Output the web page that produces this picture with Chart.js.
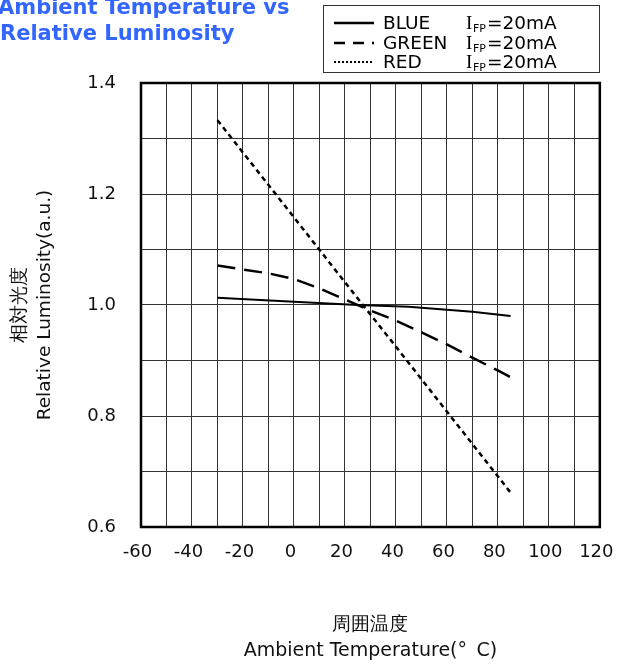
<!DOCTYPE html>
<html>
<head>
<meta charset="utf-8">
<script src="https://cdn.jsdelivr.net/npm/chart.js@4.4.0/dist/chart.umd.min.js"></script>
<style>
  html, body { margin: 0; padding: 0; background: #fff; }
  #wrap { width: 632px; height: 664px; position: relative; }
</style>
</head>
<body>
<div id="wrap"><canvas id="c" width="632" height="664"></canvas></div>
<script>
// ---- data ----
const blueX  = [-30, 0, 25, 45, 70, 85];
const blueY  = [1.013, 1.006, 1.000, 0.997, 0.988, 0.980];
const greenX = [-30, -10, 0, 10, 20, 30, 40, 50, 60, 70, 80, 85];
const greenY = [1.071, 1.057, 1.047, 1.030, 1.010, 0.990, 0.972, 0.951, 0.929, 0.905, 0.882, 0.870];
const redX   = [-30, 0, 20, 40, 60, 85];
const redY   = [1.333, 1.158, 1.041, 0.925, 0.808, 0.662];
const xTickLabels = ['-60', '-40', '-20', '0', '20', '40', '60', '80', '100', '120'];
const yTickLabels = ['0.6', '0.8', '1.0', '1.2', '1.4'];
const seriesNames = ['BLUE', 'GREEN', 'RED'];
const seriesCurrent = '=20mA';
const chartTitle = ['Ambient Temperature vs', 'Relative Luminosity'];
const xTitle = ['周囲温度', 'Ambient Temperature(\u00B0\u2002C)'];
const yTitle = ['相対光度', 'Relative Luminosity(a.u.)'];

const FONT = "'DejaVu Sans', Verdana, sans-serif";
const pts = (xs, ys) => xs.map((x, i) => ({x: x, y: ys[i]}));

const dashes = [[], [18, 9], [5, 4]];
const widths = [2, 2.5, 2.5];

const frame = {
  id: 'frame',
  afterDatasetsDraw(chart) {
    const {ctx, chartArea: a} = chart;
    ctx.save();
    ctx.strokeStyle = '#000';
    ctx.lineWidth = 2.5;
    ctx.strokeRect(a.left, a.top, a.right - a.left, a.bottom - a.top);
    ctx.restore();
  },
  afterDraw(chart) {
    const ctx = chart.ctx;
    ctx.save();
    // main title
    ctx.fillStyle = '#3366ff';
    ctx.font = "bold 21px " + FONT;
    ctx.textBaseline = 'alphabetic';
    ctx.textAlign = 'left';
    ctx.fillText(chartTitle[0], -2, 14);
    ctx.fillText(chartTitle[1], 0, 40);
    // legend box
    ctx.strokeStyle = '#333';
    ctx.lineWidth = 1;
    ctx.strokeRect(323.5, 5.5, 276, 67);
    const rows = [23, 43, 62];
    for (let i = 0; i < 3; i++) {
      const y = rows[i];
      ctx.beginPath();
      ctx.setLineDash(i === 0 ? [] : (i === 1 ? [11, 8] : [2, 2]));
      ctx.lineWidth = i === 2 ? 2 : 2.5;
      ctx.strokeStyle = '#000';
      ctx.moveTo(334, y);
      ctx.lineTo(374, y);
      ctx.stroke();
      ctx.setLineDash([]);
      ctx.fillStyle = '#000';
      ctx.textBaseline = 'middle';
      ctx.font = "18.5px " + FONT;
      ctx.fillText(seriesNames[i], 383, y + 1);
      ctx.font = "19px 'Liberation Serif', serif";
      ctx.fillText('I', 466, y + 1);
      ctx.font = "11px " + FONT;
      ctx.fillText('FP', 473, y + 6);
      ctx.font = "18.5px " + FONT;
      ctx.fillText(seriesCurrent, 487, y + 1);
    }
    ctx.restore();
  }
};

new Chart(document.getElementById('c'), {
  type: 'scatter',
  data: {
    datasets: [
      {label: seriesNames[0], data: pts(blueX, blueY)},
      {label: seriesNames[1], data: pts(greenX, greenY)},
      {label: seriesNames[2], data: pts(redX, redY)}
    ].map((d, i) => Object.assign(d, {
      showLine: true, borderColor: '#000', borderWidth: widths[i], borderDash: dashes[i],
      pointRadius: 0, pointHoverRadius: 0, tension: 0, fill: false
    }))
  },
  options: {
    responsive: false,
    animation: false,
    devicePixelRatio: 1,
    layout: {padding: {top: 83, right: 30, left: 0, bottom: 0}},
    plugins: {legend: {display: false}, tooltip: {enabled: false}, title: {display: false}},
    scales: {
      x: {
        type: 'linear', min: -60, max: 120,
        afterFit(s) { s.height = 137; },
        grid: {color: '#333', lineWidth: 1, drawTicks: false},
        border: {display: false},
        ticks: {
          stepSize: 10, padding: 15, labelOffset: -3.5, color: '#111', maxRotation: 0, autoSkip: false,
          font: {family: FONT, size: 18},
          callback: v => {
            const s = String(Math.round(v));
            return xTickLabels.includes(s) ? s : '';
          }
        },
        title: {display: true, text: xTitle, color: '#111', padding: {top: 0, bottom: 0},
          font: {family: FONT, size: 19, lineHeight: 26 / 19}}
      },
      y: {
        type: 'linear', min: 0.6, max: 1.4,
        afterFit(s) { s.width = 141; },
        grid: {color: '#333', lineWidth: 1, drawTicks: false},
        border: {display: false},
        ticks: {
          stepSize: 0.1, padding: 25, color: '#111', autoSkip: false,
          font: {family: FONT, size: 18},
          callback: v => {
            const s = (Math.round(v * 10) / 10).toFixed(1);
            return yTickLabels.includes(s) ? s : '';
          }
        },
        title: {display: true, text: yTitle, color: '#111', padding: {top: 8, bottom: 0},
          font: {family: FONT, size: 18.5, lineHeight: 25 / 18.5}}
      }
    }
  },
  plugins: [frame]
});
</script>
</body>
</html>
